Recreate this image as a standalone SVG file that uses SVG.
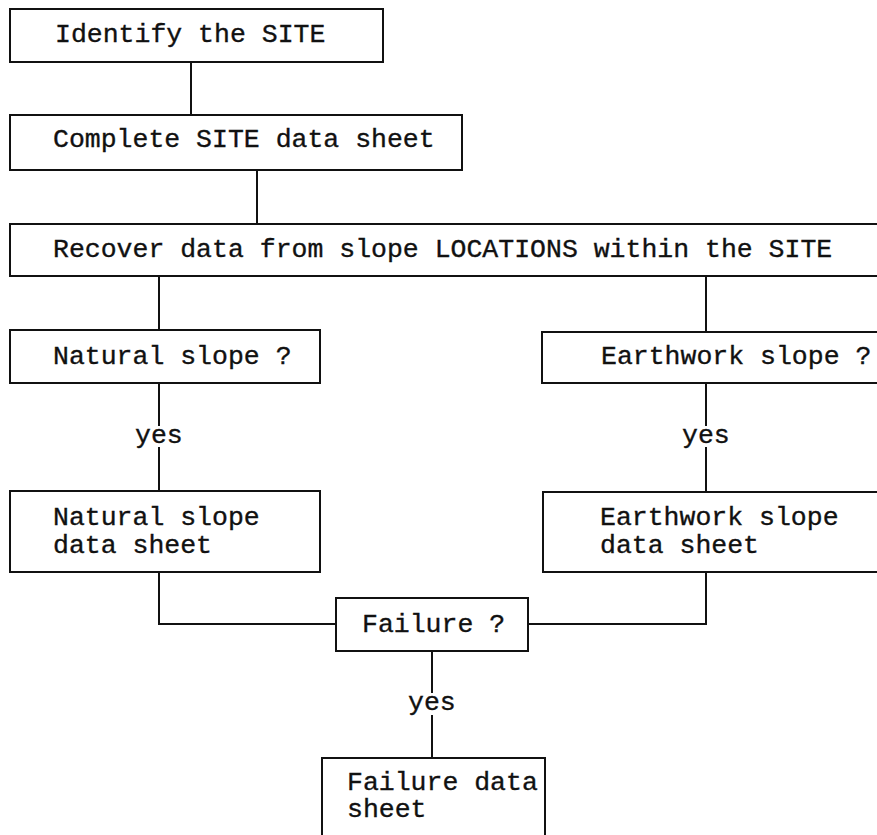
<svg xmlns="http://www.w3.org/2000/svg" width="877" height="835" viewBox="0 0 877 835">
<style>
rect { fill: #fff; stroke: #111; stroke-width: 2; }
.c line, .c polyline { fill: none; stroke: #111; stroke-width: 2; }
text { font-family: "Liberation Mono", "Courier New", monospace; font-size: 26.5px; fill: #111; stroke: #111; stroke-width: 0.35; }
</style>
<rect x="0" y="0" width="877" height="835" style="fill:#fff;stroke:none"/>
<g class="c" id="connectors">
<line x1="191" y1="62" x2="191" y2="115"/>
<line x1="257" y1="170" x2="257" y2="224"/>
<line x1="159" y1="276" x2="159" y2="330"/>
<line x1="706" y1="276" x2="706" y2="332"/>
<line x1="159" y1="383" x2="159" y2="426"/>
<line x1="159" y1="447" x2="159" y2="491"/>
<line x1="706" y1="383" x2="706" y2="426"/>
<line x1="706" y1="447" x2="706" y2="492"/>
<polyline points="159,572 159,624 336,624"/>
<polyline points="706,572 706,624 528,624"/>
<line x1="432" y1="651" x2="432" y2="693"/>
<line x1="432" y1="715" x2="432" y2="758"/>
<text x="135" y="443">yes</text>
<text x="682" y="443">yes</text>
<text x="408" y="710">yes</text>
</g>
<g id="identify">
<rect x="10" y="9" width="373" height="53"/>
<text x="55" y="42">Identify the SITE</text>
</g>
<g id="complete">
<rect x="10" y="115" width="452" height="55"/>
<text x="53" y="147">Complete SITE data sheet</text>
</g>
<g id="recover">
<rect x="10" y="224" width="880" height="52"/>
<text x="53" y="257">Recover data from slope LOCATIONS within the SITE</text>
</g>
<g id="natural">
<rect x="10" y="330" width="310" height="53"/>
<text x="53" y="364">Natural slope ?</text>
</g>
<g id="earthwork">
<rect x="542" y="332" width="350" height="51"/>
<text x="601" y="364">Earthwork slope ?</text>
</g>
<g id="natural-sheet">
<rect x="10" y="491" width="310" height="81"/>
<text x="53" y="525">Natural slope</text>
<text x="53" y="553">data sheet</text>
</g>
<g id="earthwork-sheet">
<rect x="543" y="492" width="350" height="80"/>
<text x="600" y="525">Earthwork slope</text>
<text x="600" y="553">data sheet</text>
</g>
<g id="failure">
<rect x="336" y="598" width="192" height="53"/>
<text x="362" y="632">Failure ?</text>
</g>
<g id="failure-sheet">
<rect x="322" y="758" width="223" height="95"/>
<text x="347" y="790">Failure data</text>
<text x="347" y="817">sheet</text>
</g>
</svg>
